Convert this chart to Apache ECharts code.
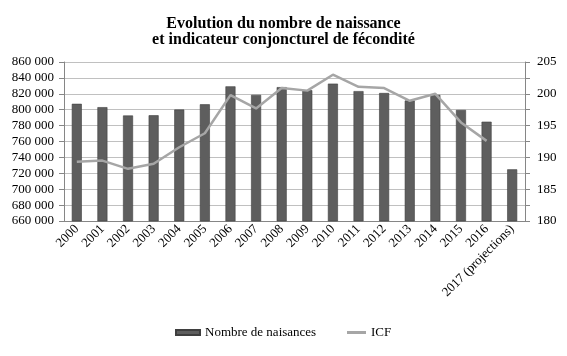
<!DOCTYPE html>
<html><head><meta charset="utf-8">
<script src="https://cdn.jsdelivr.net/npm/echarts@6/dist/echarts.min.js"></script>
<style>html,body{margin:0;padding:0;background:#fff}#c{width:567px;height:356px}</style>
</head><body><div id="c"></div>
<script>
const categories = ['2000','2001','2002','2003','2004','2005','2006','2007','2008','2009','2010','2011','2012','2013','2014','2015','2016','2017 (projections)'];
const naissances = [807400,803200,792700,793000,800200,806800,829400,818700,828400,824600,832800,823400,821000,811500,818600,799700,784900,725000];
const icf = [189.3,189.5,188.2,189.0,191.6,193.8,199.8,197.7,200.9,200.5,203.0,201.1,200.9,198.9,200.0,195.5,192.6,null];
const titleText = 'Evolution du nombre de naissance\net indicateur conjoncturel de fécondité';
const seriesNames = ['Nombre de naisances','ICF'];

const FONT = 'Liberation Serif';
const chart = echarts.init(document.getElementById('c'), null, {renderer:'canvas'});
chart.setOption({
  animation:false,
  backgroundColor:'#fff',
  title:{text:titleText,left:'center',top:11,textStyle:{fontFamily:FONT,fontSize:16,fontWeight:'bold',color:'#000',lineHeight:16}},
  grid:{left:64,right:42,top:62,bottom:135},
  legend:[
    {left:175,top:326,padding:0,itemGap:4,itemWidth:24,itemHeight:5,
     textStyle:{fontFamily:FONT,fontSize:13,color:'#000'},
     data:[{name:seriesNames[0],icon:'rect'}]},
    {left:347,top:326,padding:0,itemGap:4,itemWidth:19,itemHeight:3,
     textStyle:{fontFamily:FONT,fontSize:13,color:'#000'},
     data:[{name:seriesNames[1],icon:'rect',itemStyle:{color:'#a6a6a6'}}]}
  ],
  xAxis:{type:'category',data:categories,
    axisLine:{lineStyle:{color:'#868686'}},
    axisTick:{length:4,lineStyle:{color:'#868686'}},
    axisLabel:{rotate:45,interval:0,fontFamily:FONT,fontSize:13,color:'#000',margin:6}},
  yAxis:[
    {type:'value',min:660000,max:860000,interval:20000,
     axisLine:{show:true,lineStyle:{color:'#868686'}},
     axisTick:{show:true,length:5,lineStyle:{color:'#868686'}},
     splitLine:{lineStyle:{color:'#c0c0c0'}},
     axisLabel:{fontFamily:FONT,fontSize:13,color:'#000',margin:10,
       formatter:v=>String(v).replace(/\B(?=(\d{3})+(?!\d))/g,' ')}},
    {type:'value',min:180,max:205,interval:2.5,position:'right',
     axisLine:{show:true,lineStyle:{color:'#868686'}},
     axisTick:{show:true,length:5,lineStyle:{color:'#868686'}},
     splitLine:{show:false},
     axisLabel:{fontFamily:FONT,fontSize:13,color:'#000',margin:12,
       formatter:v=>(v%5===0?String(v):'')}}
  ],
  series:[
    {name:seriesNames[0],type:'bar',data:naissances,barWidth:10,
     itemStyle:{color:'#5e5e5e',borderColor:'#3f3f3f',borderWidth:0.6}},
    {name:seriesNames[1],type:'line',yAxisIndex:1,data:icf,symbol:'none',
     lineStyle:{color:'#a6a6a6',width:2.5},itemStyle:{color:'#a6a6a6'}}
  ]
});
</script></body></html>
